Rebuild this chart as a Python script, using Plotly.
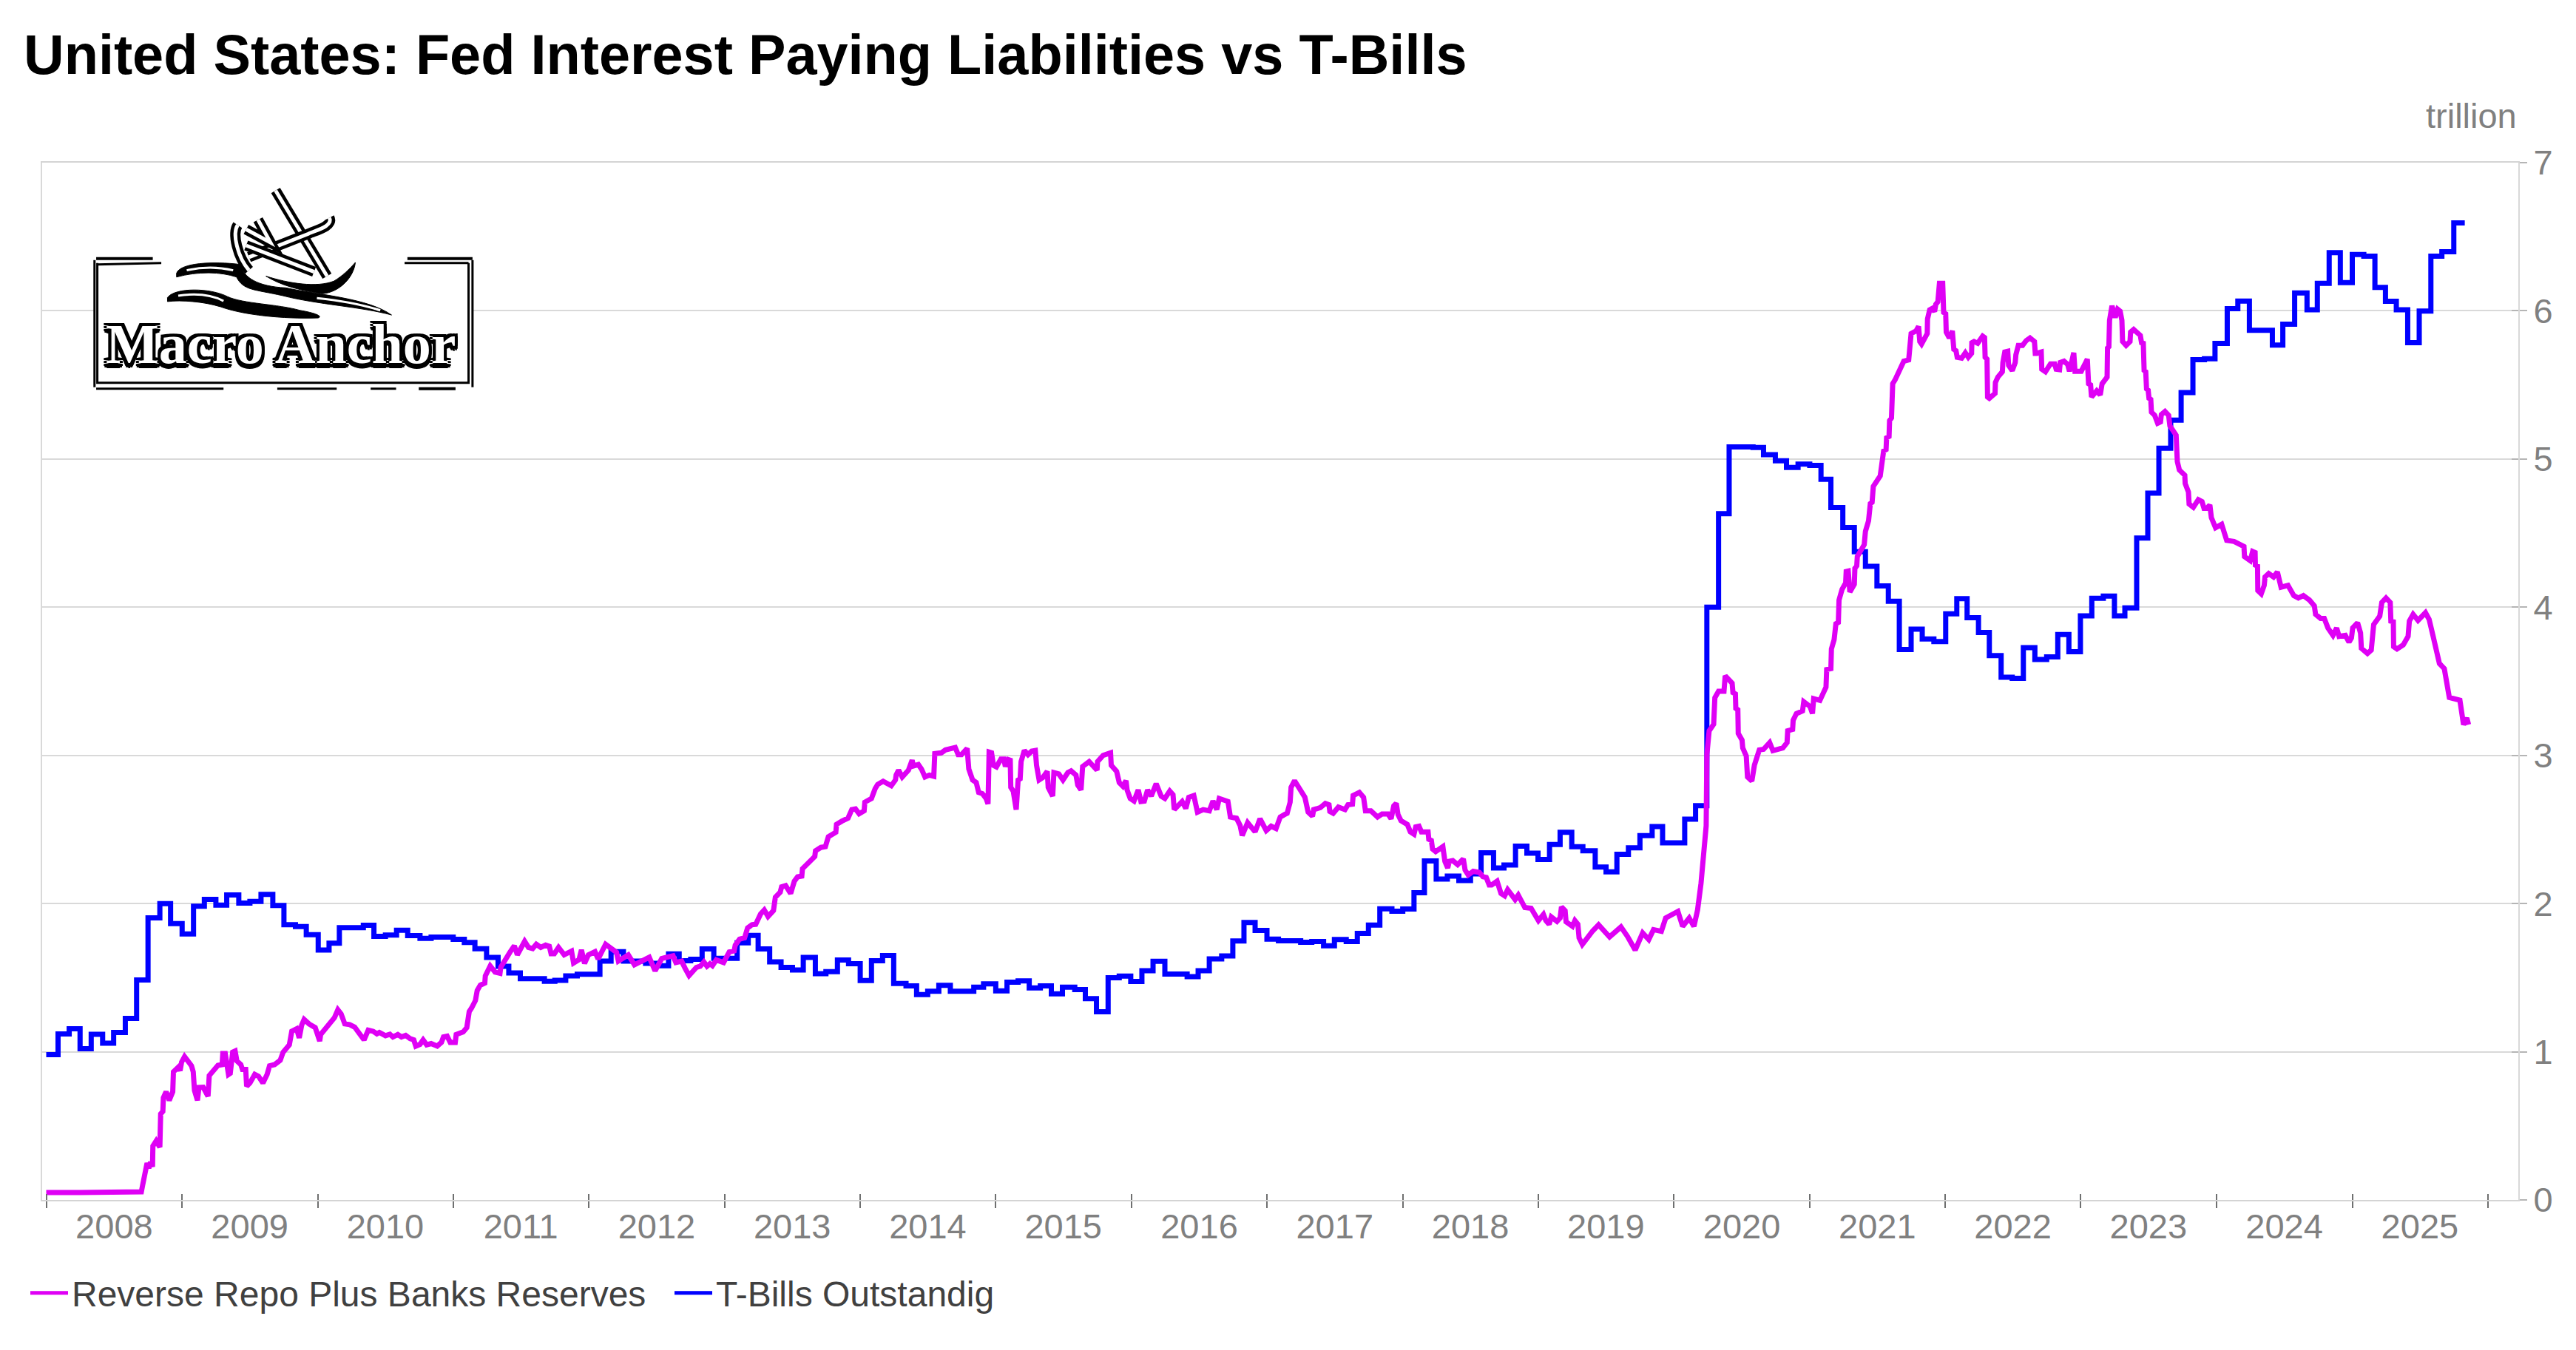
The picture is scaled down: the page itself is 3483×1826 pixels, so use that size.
import calendar
from datetime import datetime, timedelta
import plotly.graph_objects as go

TITLE = "United States: Fed Interest Paying Liabilities vs T-Bills"
UNIT_LABEL = "trillion"
SERIES_RESERVES = "Reverse Repo Plus Banks Reserves"
SERIES_TBILLS = "T-Bills Outstandig"
LOGO_TEXT = "Macro Anchor"
YEAR_LABELS = list(range(2008, 2026))
YEAR_TICKS = list(range(2008, 2027))
VALUE_TICKS = [0, 1, 2, 3, 4, 5, 6, 7]

tbill_years = [
    2008.0, 2008.087, 2008.169, 2008.249, 2008.331, 2008.415, 2008.496, 2008.582, 2008.665, 2008.749,
    2008.836, 2008.915, 2009.0, 2009.084, 2009.164, 2009.249, 2009.329, 2009.418, 2009.5, 2009.582,
    2009.669, 2009.751, 2009.836, 2009.916, 2010.004, 2010.084, 2010.16, 2010.337, 2010.415, 2010.5,
    2010.582, 2010.664, 2010.755, 2010.837, 2011.0, 2011.082, 2011.16, 2011.246, 2011.331, 2011.41,
    2011.495, 2011.673, 2011.75, 2011.83, 2011.915, 2012.082, 2012.164, 2012.255, 2012.418, 2012.51,
    2012.587, 2012.665, 2012.75, 2012.834, 2012.92, 2013.092, 2013.174, 2013.247, 2013.332, 2013.416,
    2013.5, 2013.58, 2013.669, 2013.747, 2013.832, 2013.914, 2014.0, 2014.083, 2014.165, 2014.247,
    2014.338, 2014.416, 2014.498, 2014.58, 2014.665, 2014.838, 2014.91, 2015.0, 2015.083, 2015.165,
    2015.247, 2015.329, 2015.41, 2015.492, 2015.583, 2015.661, 2015.743, 2015.829, 2015.911, 2015.996,
    2016.078, 2016.16, 2016.247, 2016.411, 2016.492, 2016.574, 2016.665, 2016.747, 2016.829, 2016.911,
    2016.998, 2017.083, 2017.247, 2017.329, 2017.416, 2017.496, 2017.583, 2017.665, 2017.747, 2017.831,
    2017.92, 2018.0, 2018.083, 2018.16, 2018.247, 2018.329, 2018.414, 2018.5, 2018.578, 2018.67,
    2018.747, 2018.832, 2018.916, 2018.998, 2019.083, 2019.161, 2019.247, 2019.329, 2019.42, 2019.5,
    2019.58, 2019.665, 2019.75, 2019.84, 2019.917, 2020.08, 2020.16, 2020.243, 2020.329, 2020.407,
    2020.583, 2020.66, 2020.747, 2020.829, 2020.914, 2021.0, 2021.083, 2021.156, 2021.244, 2021.329,
    2021.411, 2021.496, 2021.58, 2021.661, 2021.748, 2021.83, 2021.916, 2022.003, 2022.085, 2022.161,
    2022.245, 2022.325, 2022.412, 2022.494, 2022.576, 2022.661, 2022.748, 2022.83, 2022.912, 2022.997,
    2023.081, 2023.166, 2023.248, 2023.325, 2023.412, 2023.494, 2023.576, 2023.663, 2023.74, 2023.827,
    2023.912, 2023.99, 2024.08, 2024.158, 2024.243, 2024.412, 2024.489, 2024.576, 2024.667, 2024.743,
    2024.83, 2024.912, 2025.0, 2025.085, 2025.167, 2025.245, 2025.325, 2025.409, 2025.494, 2025.58,
    2025.661, 2025.749, 2025.83,
]
tbill_values = [
    0.98, 1.12, 1.155, 1.02, 1.117, 1.058, 1.13, 1.225, 1.484, 1.904,
    2.0, 1.865, 1.795, 1.982, 2.028, 1.99, 2.058, 2.003, 2.015, 2.062,
    1.987, 1.857, 1.845, 1.79, 1.687, 1.732, 1.837, 1.854, 1.779, 1.787,
    1.82, 1.784, 1.765, 1.774, 1.759, 1.737, 1.695, 1.637, 1.576, 1.532,
    1.493, 1.476, 1.482, 1.512, 1.523, 1.612, 1.675, 1.612, 1.596, 1.58,
    1.66, 1.614, 1.624, 1.694, 1.63, 1.735, 1.785, 1.694, 1.606, 1.569,
    1.552, 1.636, 1.527, 1.541, 1.619, 1.594, 1.481, 1.614, 1.649, 1.461,
    1.444, 1.386, 1.408, 1.448, 1.408, 1.436, 1.458, 1.411, 1.469, 1.478,
    1.431, 1.444, 1.391, 1.436, 1.419, 1.358, 1.27, 1.499, 1.511, 1.474,
    1.547, 1.61, 1.524, 1.507, 1.547, 1.627, 1.647, 1.747, 1.872, 1.819,
    1.76, 1.749, 1.739, 1.744, 1.715, 1.757, 1.744, 1.799, 1.855, 1.965,
    1.948, 1.963, 2.073, 2.288, 2.165, 2.185, 2.155, 2.2, 2.343, 2.24,
    2.26, 2.388, 2.34, 2.298, 2.398, 2.481, 2.384, 2.356, 2.246, 2.214,
    2.332, 2.376, 2.459, 2.519, 2.41, 2.57, 2.66, 4.0, 4.631, 5.082,
    5.078, 5.029, 4.988, 4.943, 4.966, 4.957, 4.863, 4.672, 4.538, 4.374,
    4.276, 4.143, 4.04, 3.715, 3.852, 3.786, 3.768, 3.955, 4.057, 3.929,
    3.829, 3.674, 3.528, 3.52, 3.727, 3.647, 3.665, 3.816, 3.70, 3.941,
    4.06, 4.075, 3.941, 3.995, 4.467, 4.77, 5.073, 5.263, 5.448, 5.67,
    5.677, 5.78, 6.014, 6.066, 5.869, 5.769, 5.91, 6.121, 6.007, 6.186,
    6.392, 6.19, 6.38, 6.369, 6.158, 6.064, 6.007, 5.785, 5.998, 6.369,
    6.399, 6.593, 6.593,
]

reserves_years = [
    2008.0, 2008.04, 2008.1, 2008.16, 2008.25, 2008.35, 2008.45, 2008.55, 2008.62, 2008.70,
    2008.709, 2008.724, 2008.742, 2008.755, 2008.768, 2008.782, 2008.785, 2008.809, 2008.836, 2008.842,
    2008.858, 2008.862, 2008.882, 2008.905, 2008.931, 2008.936, 2008.973, 2008.985, 2008.996, 2009.018,
    2009.045, 2009.069, 2009.082, 2009.091, 2009.113, 2009.124, 2009.155, 2009.191, 2009.2, 2009.236,
    2009.264, 2009.295, 2009.3, 2009.318, 2009.342, 2009.355, 2009.373, 2009.391, 2009.404, 2009.433,
    2009.445, 2009.469, 2009.476, 2009.5, 2009.536, 2009.564, 2009.596, 2009.627, 2009.645, 2009.682,
    2009.724, 2009.745, 2009.791, 2009.809, 2009.845, 2009.864, 2009.882, 2009.9, 2009.936, 2009.982,
    2010.015, 2010.022, 2010.1, 2010.124, 2010.149, 2010.173, 2010.2, 2010.236, 2010.273, 2010.3,
    2010.342, 2010.373, 2010.409, 2010.437, 2010.455, 2010.5, 2010.533, 2010.555, 2010.591, 2010.618,
    2010.649, 2010.682, 2010.709, 2010.724, 2010.755, 2010.778, 2010.804, 2010.837, 2010.882, 2010.913,
    2010.928, 2010.955, 2010.978, 2011.015, 2011.022, 2011.073, 2011.1, 2011.109, 2011.118, 2011.136,
    2011.164, 2011.177, 2011.2, 2011.233, 2011.237, 2011.273, 2011.309, 2011.345, 2011.351, 2011.418,
    2011.451, 2011.473, 2011.5, 2011.527, 2011.555, 2011.586, 2011.613, 2011.646, 2011.682, 2011.709,
    2011.722, 2011.746, 2011.777, 2011.819, 2011.873, 2011.888, 2011.928, 2011.946, 2011.969, 2011.997,
    2012.046, 2012.069, 2012.124, 2012.164, 2012.204, 2012.218, 2012.291, 2012.336, 2012.391, 2012.445,
    2012.488, 2012.537, 2012.565, 2012.62, 2012.641, 2012.683, 2012.71, 2012.738, 2012.792, 2012.82,
    2012.847, 2012.87, 2012.892, 2012.91, 2012.938, 2012.992, 2013.034, 2013.07, 2013.078, 2013.11,
    2013.147, 2013.169, 2013.201, 2013.229, 2013.265, 2013.292, 2013.32, 2013.36, 2013.374, 2013.41,
    2013.42, 2013.45, 2013.487, 2013.514, 2013.538, 2013.569, 2013.574, 2013.601, 2013.629, 2013.665,
    2013.67, 2013.71, 2013.743, 2013.765, 2013.82, 2013.825, 2013.865, 2013.91, 2013.938, 2013.965,
    2013.992, 2014.029, 2014.034, 2014.083, 2014.11, 2014.129, 2014.169, 2014.229, 2014.26, 2014.265,
    2014.283, 2014.31, 2014.356, 2014.383, 2014.392, 2014.429, 2014.452, 2014.478, 2014.51, 2014.543,
    2014.55, 2014.598, 2014.629, 2014.665, 2014.701, 2014.723, 2014.747, 2014.789, 2014.801, 2014.829,
    2014.856, 2014.874, 2014.901, 2014.929, 2014.943, 2014.951, 2014.969, 2014.983, 2015.005, 2015.038,
    2015.06, 2015.071, 2015.092, 2015.107, 2015.111, 2015.129, 2015.138, 2015.151, 2015.165, 2015.18,
    2015.187, 2015.211, 2015.238, 2015.265, 2015.292, 2015.301, 2015.32, 2015.347, 2015.38, 2015.387,
    2015.42, 2015.429, 2015.465, 2015.496, 2015.532, 2015.556, 2015.592, 2015.605, 2015.629, 2015.641,
    2015.689, 2015.747, 2015.751, 2015.792, 2015.847, 2015.852, 2015.892, 2015.911, 2015.938, 2015.961,
    2015.969, 2015.992, 2016.02, 2016.051, 2016.071, 2016.096, 2016.12, 2016.147, 2016.183, 2016.22,
    2016.247, 2016.283, 2016.307, 2016.316, 2016.374, 2016.401, 2016.423, 2016.46, 2016.487, 2016.529,
    2016.574, 2016.601, 2016.629, 2016.647, 2016.711, 2016.729, 2016.774, 2016.801, 2016.816, 2016.856,
    2016.911, 2016.947, 2016.993, 2017.029, 2017.065, 2017.096, 2017.129, 2017.147, 2017.169, 2017.176,
    2017.202, 2017.238, 2017.278, 2017.302, 2017.334, 2017.343, 2017.392, 2017.429, 2017.456, 2017.462,
    2017.487, 2017.525, 2017.574, 2017.596, 2017.629, 2017.634, 2017.68, 2017.711, 2017.725, 2017.765,
    2017.814, 2017.847, 2017.892, 2017.914, 2017.934, 2017.952, 2017.965, 2017.987, 2018.034, 2018.056,
    2018.083, 2018.096, 2018.12, 2018.138, 2018.187, 2018.192, 2018.211, 2018.22, 2018.243, 2018.296,
    2018.311, 2018.332, 2018.343, 2018.369, 2018.405, 2018.447, 2018.46, 2018.483, 2018.52, 2018.565,
    2018.592, 2018.616, 2018.638, 2018.656, 2018.696, 2018.725, 2018.752, 2018.774, 2018.829, 2018.852,
    2018.901, 2018.947, 2019.001, 2019.038, 2019.056, 2019.08, 2019.096, 2019.138, 2019.161, 2019.171,
    2019.198, 2019.205, 2019.252, 2019.27, 2019.292, 2019.301, 2019.325, 2019.401, 2019.445, 2019.526,
    2019.61, 2019.657, 2019.715, 2019.77, 2019.815, 2019.85, 2019.908, 2019.94, 2020.03, 2020.065,
    2020.113, 2020.148, 2020.175, 2020.2, 2020.238, 2020.243, 2020.26, 2020.293, 2020.302, 2020.329,
    2020.369, 2020.378, 2020.402, 2020.429, 2020.435, 2020.453, 2020.456, 2020.471, 2020.474, 2020.502,
    2020.507, 2020.533, 2020.542, 2020.574, 2020.593, 2020.611, 2020.629, 2020.66, 2020.705, 2020.729,
    2020.802, 2020.833, 2020.838, 2020.874, 2020.878, 2020.902, 2020.947, 2020.956, 2021.002, 2021.02,
    2021.029, 2021.075, 2021.093, 2021.12, 2021.125, 2021.156, 2021.16, 2021.18, 2021.193, 2021.211,
    2021.216, 2021.238, 2021.265, 2021.269, 2021.284, 2021.296, 2021.329, 2021.333, 2021.347, 2021.351,
    2021.402, 2021.411, 2021.434, 2021.447, 2021.46, 2021.469, 2021.52, 2021.545, 2021.563, 2021.567,
    2021.585, 2021.589, 2021.603, 2021.612, 2021.63, 2021.657, 2021.694, 2021.73, 2021.739, 2021.748,
    2021.785, 2021.803, 2021.812, 2021.825, 2021.867, 2021.869, 2021.885, 2021.903, 2021.921, 2021.93,
    2021.945, 2021.957, 2021.981, 2021.988, 2022.003, 2022.007, 2022.03, 2022.052, 2022.063, 2022.079,
    2022.088, 2022.121, 2022.148, 2022.17, 2022.194, 2022.196, 2022.212, 2022.239, 2022.276, 2022.29,
    2022.294, 2022.308, 2022.312, 2022.325, 2022.367, 2022.37, 2022.388, 2022.421, 2022.425, 2022.439,
    2022.461, 2022.467, 2022.494, 2022.516, 2022.521, 2022.539, 2022.57, 2022.597, 2022.625, 2022.658,
    2022.664, 2022.676, 2022.708, 2022.712, 2022.739, 2022.776, 2022.807, 2022.818, 2022.843, 2022.848,
    2022.876, 2022.903, 2022.916, 2022.93, 2022.948, 2022.957, 2023.003, 2023.036, 2023.048, 2023.057,
    2023.072, 2023.079, 2023.117, 2023.143, 2023.157, 2023.194, 2023.197, 2023.207, 2023.212, 2023.23,
    2023.254, 2023.272, 2023.29, 2023.303, 2023.308, 2023.334, 2023.363, 2023.367, 2023.39, 2023.439,
    2023.448, 2023.461, 2023.467, 2023.479, 2023.485, 2023.497, 2023.503, 2023.516, 2023.521, 2023.545,
    2023.567, 2023.588, 2023.594, 2023.621, 2023.648, 2023.657, 2023.703, 2023.712, 2023.727, 2023.767,
    2023.77, 2023.794, 2023.799, 2023.83, 2023.867, 2023.894, 2023.909, 2023.93, 2023.952, 2023.963,
    2023.994, 2024.039, 2024.058, 2024.076, 2024.13, 2024.167, 2024.203, 2024.207, 2024.249, 2024.267,
    2024.285, 2024.287, 2024.303, 2024.305, 2024.33, 2024.352, 2024.358, 2024.385, 2024.421, 2024.449,
    2024.476, 2024.527, 2024.57, 2024.603, 2024.64, 2024.685, 2024.721, 2024.73, 2024.767, 2024.794,
    2024.821, 2024.858, 2024.885, 2024.903, 2024.949, 2024.976, 2024.994, 2025.003, 2025.039, 2025.061,
    2025.067, 2025.112, 2025.14, 2025.158, 2025.203, 2025.218, 2025.249, 2025.28, 2025.285, 2025.303,
    2025.305, 2025.33, 2025.376, 2025.412, 2025.421, 2025.449, 2025.485, 2025.54, 2025.567, 2025.594,
    2025.621, 2025.643, 2025.679, 2025.694, 2025.716, 2025.794, 2025.803, 2025.821, 2025.845, 2025.858,
]
reserves_values = [
    0.05, 0.048, 0.052, 0.05, 0.05, 0.05, 0.052, 0.055, 0.052, 0.055,
    0.098, 0.165, 0.248, 0.215, 0.256, 0.223, 0.364, 0.398, 0.356, 0.581,
    0.597, 0.689, 0.73, 0.672, 0.73, 0.864, 0.897, 0.872, 0.93, 0.967,
    0.927, 0.905, 0.864, 0.739, 0.672, 0.759, 0.76, 0.70, 0.839, 0.872,
    0.908, 0.913, 0.988, 0.988, 0.847, 0.855, 0.997, 1.005, 0.938, 0.913,
    0.88, 0.88, 0.767, 0.789, 0.847, 0.834, 0.789, 0.847, 0.905, 0.913,
    0.943, 0.997, 1.047, 1.138, 1.155, 1.093, 1.18, 1.218, 1.188, 1.163,
    1.072, 1.116, 1.196, 1.23, 1.283, 1.255, 1.188, 1.183, 1.166, 1.13,
    1.08, 1.146, 1.138, 1.121, 1.13, 1.108, 1.118, 1.1, 1.116, 1.1,
    1.11, 1.088, 1.08, 1.038, 1.05, 1.08, 1.047, 1.055, 1.038, 1.063,
    1.1, 1.105, 1.063, 1.063, 1.116, 1.133, 1.163, 1.216, 1.271, 1.296,
    1.346, 1.413, 1.449, 1.463, 1.512, 1.579, 1.537, 1.529, 1.571, 1.671,
    1.715, 1.654, 1.696, 1.745, 1.704, 1.696, 1.725, 1.704, 1.72, 1.712,
    1.662, 1.662, 1.704, 1.654, 1.679, 1.599, 1.621, 1.687, 1.596, 1.654,
    1.675, 1.626, 1.725, 1.696, 1.671, 1.612, 1.654, 1.587, 1.612, 1.637,
    1.546, 1.629, 1.636, 1.647, 1.602, 1.611, 1.561, 1.514, 1.569, 1.577,
    1.606, 1.577, 1.594, 1.581, 1.619, 1.602, 1.674, 1.681, 1.719, 1.76,
    1.769, 1.835, 1.857, 1.86, 1.93, 1.957, 1.913, 1.952, 2.043, 2.077,
    2.113, 2.121, 2.068, 2.151, 2.18, 2.185, 2.235, 2.26, 2.276, 2.318,
    2.356, 2.379, 2.384, 2.451, 2.481, 2.534, 2.556, 2.576, 2.634, 2.639,
    2.606, 2.626, 2.684, 2.709, 2.775, 2.804, 2.825, 2.795, 2.834, 2.867,
    2.9, 2.854, 2.9, 2.967, 2.928, 2.938, 2.908, 2.854, 2.867, 2.859,
    3.012, 3.017, 3.037, 3.042, 3.053, 3.005, 3.005, 3.047, 2.908, 2.834,
    2.817, 2.75, 2.742, 2.709, 2.672, 3.022, 3.017, 2.933, 2.922, 2.975,
    2.975, 2.925, 2.972, 2.967, 2.784, 2.759, 2.692, 2.634, 2.834, 2.842,
    2.958, 3.033, 3.005, 3.028, 3.033, 2.933, 2.834, 2.85, 2.892, 2.784,
    2.725, 2.884, 2.875, 2.834, 2.884, 2.895, 2.867, 2.8, 2.767, 2.925,
    2.958, 2.9, 2.958, 3.0, 3.017, 2.933, 2.892, 2.817, 2.792, 2.829,
    2.767, 2.709, 2.692, 2.767, 2.689, 2.692, 2.767, 2.725, 2.809, 2.725,
    2.709, 2.759, 2.734, 2.634, 2.689, 2.642, 2.717, 2.729, 2.617, 2.634,
    2.626, 2.692, 2.634, 2.709, 2.689, 2.584, 2.576, 2.526, 2.459, 2.546,
    2.484, 2.572, 2.493, 2.522, 2.506, 2.584, 2.601, 2.609, 2.684, 2.784,
    2.829, 2.775, 2.717, 2.617, 2.589, 2.634, 2.647, 2.676, 2.667, 2.622,
    2.609, 2.651, 2.634, 2.667, 2.671, 2.729, 2.75, 2.717, 2.626, 2.626,
    2.584, 2.604, 2.604, 2.572, 2.659, 2.676, 2.601, 2.559, 2.534, 2.484,
    2.468, 2.517, 2.522, 2.484, 2.484, 2.434, 2.426, 2.368, 2.351, 2.384,
    2.285, 2.24, 2.285, 2.29, 2.263, 2.301, 2.226, 2.193, 2.218, 2.21,
    2.181, 2.176, 2.126, 2.126, 2.151, 2.068, 2.052, 2.093, 2.027, 2.057,
    1.973, 1.968, 1.885, 1.927, 1.885, 1.86, 1.91, 1.88, 1.902, 1.977,
    1.952, 1.877, 1.847, 1.885, 1.86, 1.769, 1.724, 1.815, 1.857, 1.775,
    1.842, 1.78, 1.686, 1.802, 1.757, 1.824, 1.813, 1.902, 1.947, 1.846,
    1.902, 1.846, 1.958, 2.136, 2.524, 3.005, 3.166, 3.21, 3.389, 3.433,
    3.433, 3.537, 3.513, 3.487, 3.424, 3.415, 3.317, 3.308, 3.148, 3.103,
    3.05, 2.996, 2.854, 2.827, 2.934, 2.996, 3.037, 3.041, 3.086, 3.032,
    3.05, 3.086, 3.166, 3.175, 3.237, 3.282, 3.3, 3.362, 3.33, 3.282,
    3.383, 3.371, 3.415, 3.46, 3.579, 3.585, 3.718, 3.781, 3.888, 3.897,
    4.048, 4.119, 4.164, 4.241, 4.244, 4.102, 4.155, 4.262, 4.28, 4.342,
    4.422, 4.512, 4.583, 4.699, 4.708, 4.815, 4.886, 5.054, 5.063, 5.143,
    5.152, 5.259, 5.277, 5.508, 5.535, 5.589, 5.66, 5.669, 5.74, 5.847,
    5.865, 5.895, 5.793, 5.776, 5.847, 5.945, 6.007, 6.016, 5.995, 6.043,
    6.061, 6.185, 6.185, 5.989, 5.98, 5.856, 5.817, 5.865, 5.74, 5.731,
    5.687, 5.681, 5.717, 5.687, 5.713, 5.785, 5.793, 5.781, 5.829, 5.82,
    5.687, 5.674, 5.419, 5.41, 5.443, 5.517, 5.553, 5.589, 5.651, 5.722,
    5.727, 5.633, 5.597, 5.651, 5.704, 5.767, 5.767, 5.799, 5.817, 5.793,
    5.713, 5.713, 5.722, 5.606, 5.589, 5.642, 5.642, 5.606, 5.603, 5.651,
    5.66, 5.638, 5.592, 5.642, 5.717, 5.592, 5.592, 5.651, 5.674, 5.508,
    5.5, 5.419, 5.46, 5.432, 5.508, 5.553, 5.749, 5.758, 5.936, 6.034,
    5.954, 6.011, 5.998, 5.936, 5.793, 5.767, 5.793, 5.856, 5.874, 5.834,
    5.785, 5.781, 5.598, 5.589, 5.473, 5.464, 5.41, 5.402, 5.316, 5.295,
    5.241, 5.25, 5.3, 5.321, 5.295, 5.224, 5.161, 4.983, 4.926, 4.891,
    4.834, 4.777, 4.696, 4.674, 4.726, 4.713, 4.667, 4.667, 4.69, 4.605,
    4.536, 4.559, 4.49, 4.451, 4.444, 4.422, 4.41, 4.341, 4.314, 4.376,
    4.369, 4.284, 4.277, 4.112, 4.09, 4.147, 4.204, 4.227, 4.204, 4.238,
    4.135, 4.147, 4.078, 4.062, 4.078, 4.048, 4.009, 3.952, 3.924, 3.924,
    3.86, 3.81, 3.86, 3.803, 3.81, 3.764, 3.792, 3.86, 3.895, 3.826,
    3.723, 3.688, 3.711, 3.883, 3.94, 4.032, 4.062, 4.032, 3.906, 3.902,
    3.734, 3.718, 3.746, 3.803, 3.906, 3.952, 3.911, 3.963, 3.918, 3.814,
    3.723, 3.62, 3.585, 3.494, 3.391, 3.372, 3.287, 3.207, 3.253, 3.207,
]

W, H = 3483, 1826
PLOT_L, PLOT_R, PLOT_T, PLOT_B = 57, 3405, 220, 1623
GRAY = "#808080"
GRID = "#d9d9d9"
MAGENTA = "#df00f5"
BLUE = "#0000ff"


def year_to_date(y):
    year = int(y)
    days = 366 if calendar.isleap(year) else 365
    return (datetime(year, 1, 1) + timedelta(days=(y - year) * days)).strftime("%Y-%m-%d %H:%M")


# page position -> fraction of the page
def fx(x):
    return x / W


def fy(y):
    return 1 - y / H


# page position -> fraction of the plot area ("paper")
def px(x):
    return (x - PLOT_L) / (PLOT_R - PLOT_L)


def py(y):
    return (PLOT_B - y) / (PLOT_B - PLOT_T)


# logo geometry: authored in a working grid, mapped to paper fractions
def lx(c):
    return px(c / 1.307)


def ly(c):
    return py(c / 2.53)


def path_from(cmds):
    out = []
    for c in cmds:
        if isinstance(c, str):
            out.append(c)
        else:
            out.append(f"{lx(c[0]):.5f},{ly(c[1]):.5f}")
    return " ".join(out)


def stroke(cmds, width, color="#000"):
    return dict(type="path", xref="paper", yref="paper", path=path_from(cmds),
                line=dict(color=color, width=width), layer="above")


def fill(cmds):
    return dict(type="path", xref="paper", yref="paper", path=path_from(cmds) + " Z",
                line=dict(color="#000", width=1), fillcolor="#000", layer="above")


logo = []
# opaque logo background: the gridline stops at the frame
logo.append(dict(type="rect", xref="paper", yref="paper", x0=lx(167), x1=lx(835), y0=ly(1330), y1=ly(880),
                 line=dict(width=0), fillcolor="#fff", layer="above"))
# frame
logo += [
    stroke(["M", (172, 905), "L", (285, 900)], 3),
    stroke(["M", (715, 900), "L", (828, 900)], 3),
    stroke(["M", (172, 900), "L", (172, 1310), "L", (828, 1310), "L", (828, 900)], 3),
    stroke(["M", (170, 885), "L", (270, 885)], 4),
    stroke(["M", (720, 885), "L", (835, 885)], 4),
    stroke(["M", (167, 890), "L", (167, 1325)], 3),
    stroke(["M", (835, 890), "L", (835, 1325)], 3),
    stroke(["M", (170, 1330), "L", (395, 1330)], 3),
    stroke(["M", (490, 1330), "L", (595, 1330)], 3),
    stroke(["M", (655, 1330), "L", (700, 1330)], 3),
    stroke(["M", (740, 1330), "L", (805, 1330)], 4),
]
# anchor bars: dark outline with a pale core
for seg in (
    ["M", (487, 652), "L", (578, 945)],
    ["M", (582, 745), "C", (590, 775), (555, 790), (545, 800), "L", (440, 880)],
    ["M", (420, 770), "C", (410, 800), (420, 880), (440, 925)],
    ["M", (456, 752), "L", (478, 830), "L", (435, 785)],
    ["M", (435, 840), "L", (555, 930)],
):
    logo.append(stroke(seg, 14))
    logo.append(stroke(seg, 5, "#fff"))
logo += [
    fill(["M", (628, 898), "C", (625, 950), (600, 1000), (570, 1005), "C", (530, 995), (495, 975), (470, 945),
          "C", (510, 970), (560, 985), (590, 962), "C", (605, 945), (618, 920), (628, 898)]),
    fill(["M", (312, 935), "C", (318, 900), (375, 893), (425, 905), "C", (430, 950), (455, 980), (505, 985),
          "C", (565, 1010), (650, 1020), (692, 1078), "C", (640, 1050), (560, 1042), (500, 1012),
          "C", (450, 990), (430, 995), (418, 948), "C", (390, 930), (350, 928), (312, 948)]),
    fill(["M", (296, 1018), "C", (310, 983), (372, 985), (402, 1015), "C", (430, 1040), (490, 1040), (530, 1062),
          "C", (555, 1070), (572, 1082), (562, 1088), "C", (500, 1092), (430, 1078), (390, 1050),
          "C", (360, 1032), (320, 1026), (296, 1032)]),
]
for wave in (
    ["M", (330, 925), "C", (360, 912), (390, 915), (412, 925)],
    ["M", (315, 1012), "C", (350, 1002), (375, 1010), (395, 1030)],
    ["M", (450, 1015), "C", (480, 1025), (500, 1035), (525, 1050)],
    ["M", (560, 1020), "C", (610, 1030), (645, 1045), (672, 1062)],
):
    logo.append(stroke(wave, 3, "#fff"))

outline = ",".join(f"{dx}px {dy}px 0 #000" for dx, dy in
                   [(-4, -4), (0, -4), (4, -4), (-4, 0), (4, 0), (-4, 4), (0, 4), (4, 4), (-3, 6), (3, 6), (0, 7)])

fig = go.Figure()
fig.add_trace(go.Scatter(x=[year_to_date(v) for v in tbill_years], y=tbill_values, name=SERIES_TBILLS,
                         mode="lines", line=dict(color=BLUE, width=7, shape="hv")))
fig.add_trace(go.Scatter(x=[year_to_date(v) for v in reserves_years], y=reserves_values, name=SERIES_RESERVES,
                         mode="lines", line=dict(color=MAGENTA, width=7)))
# carrier for the inner half of the crossing tick marks
fig.add_trace(go.Scatter(x=[], y=[], xaxis="x2", yaxis="y2", showlegend=False, hoverinfo="skip"))

x_range = [year_to_date(2007.97), year_to_date(2026.225)]
fig.update_layout(
    width=W, height=H, autosize=False,
    margin=dict(l=PLOT_L, r=W - PLOT_R, t=PLOT_T, b=H - PLOT_B, pad=0, autoexpand=False),
    paper_bgcolor="#fff", plot_bgcolor="#fff",
    font=dict(family="Liberation Sans, Arial, sans-serif", size=47, color=GRAY),
    showlegend=True,
    legend=dict(orientation="h", traceorder="reversed", xref="container", yref="container",
                x=fx(36), y=fy(1749), xanchor="left", yanchor="middle",
                font=dict(size=48, color="#404040"), itemwidth=51, itemsizing="constant",
                entrywidth=805, entrywidthmode="pixels", bgcolor="rgba(0,0,0,0)"),
    title=dict(text=f"<b>{TITLE}</b>", x=fx(32), xref="container", xanchor="left",
               y=fy(74), yref="container", yanchor="middle",
               font=dict(size=75.7, color="#000")),
    xaxis=dict(type="date", range=x_range,
               tickvals=[f"{y}-07-02" for y in YEAR_LABELS], ticktext=[str(y) for y in YEAR_LABELS],
               ticks="", showgrid=False, showline=True, mirror=True, linecolor="#d4d4d4", linewidth=2,
               tickfont=dict(size=47, color=GRAY), ticklabelstandoff=-6, zeroline=False,
               minor=dict(tickvals=[f"{y}-01-01" for y in YEAR_TICKS], ticks="outside", ticklen=9,
                          tickwidth=2, tickcolor="#6f7070", showgrid=False)),
    yaxis=dict(range=[0, 7], tickvals=VALUE_TICKS, side="right", gridcolor=GRID, gridwidth=2,
               showline=True, mirror=True, linecolor=GRID, linewidth=2, zeroline=False,
               ticks="outside", ticklen=10, tickwidth=2, tickcolor="#b5b5b5",
               tickfont=dict(size=47, color=GRAY), ticklabelstandoff=-1),
    xaxis2=dict(type="date", overlaying="x", range=x_range, anchor="y2",
                tickvals=[f"{y}-01-01" for y in YEAR_TICKS], ticks="inside", ticklen=8, tickwidth=2,
                tickcolor="#6f7070", showticklabels=False, showgrid=False, zeroline=False, showline=False),
    yaxis2=dict(overlaying="y", range=[0, 7], side="right", anchor="x2", tickvals=VALUE_TICKS, ticks="inside",
                ticklen=9, tickwidth=2, tickcolor="#b5b5b5", showticklabels=False, showgrid=False,
                zeroline=False, showline=False),
    shapes=logo,
    annotations=[
        dict(text=UNIT_LABEL, xref="paper", yref="paper", x=px(3405), y=py(156), xanchor="right", yanchor="middle",
             showarrow=False, font=dict(size=47, color=GRAY)),
        dict(text=LOGO_TEXT, xref="paper", yref="paper", x=px(380), y=py(465), xanchor="center", yanchor="middle",
             showarrow=False,
             font=dict(family="Liberation Serif, serif", size=76, color="#fff", weight="bold", shadow=outline)),
    ],
)
fig.write_html("out.html", config={"displayModeBar": False},
               post_script="document.body.style.margin='0';document.body.style.overflow='hidden';")
